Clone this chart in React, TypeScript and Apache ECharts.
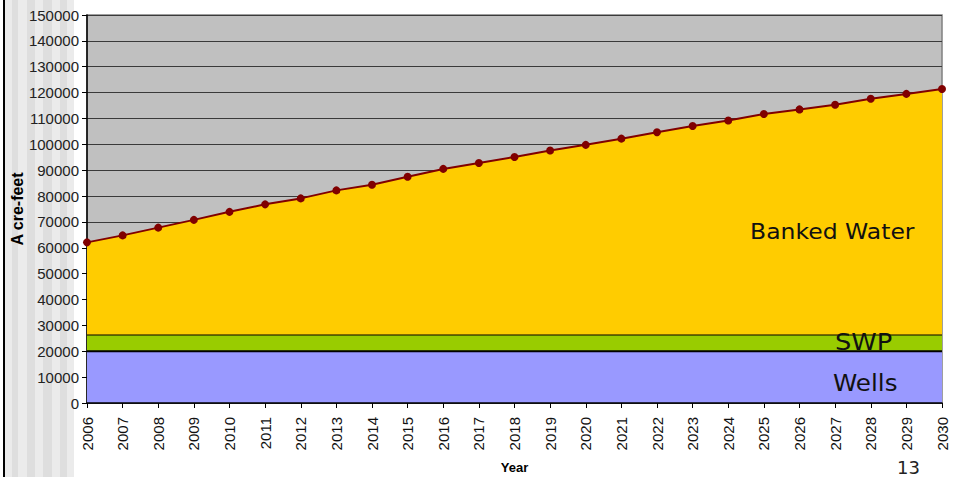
import React, { useEffect, useRef } from "react";
import * as echarts from "echarts";

const years = ["2006","2007","2008","2009","2010","2011","2012","2013","2014","2015","2016","2017","2018","2019","2020","2021","2022","2023","2024","2025","2026","2027","2028","2029","2030"];
const totalAcreFeet = [62100,64800,67800,70800,73900,76800,79100,82200,84400,87500,90500,92800,95100,97600,99800,102200,104700,107100,109200,111700,113500,115300,117600,119500,121400];
const wells = years.map(() => 20000);
const swp = years.map(() => 6500);
const yTicks = { min: 0, max: 150000, interval: 10000 };

export default function App() {
  const ref = useRef<HTMLDivElement>(null);
  useEffect(() => {
    const chart = echarts.init(ref.current!, null, { renderer: "svg" });
    const banked = totalAcreFeet.map((t, i) => t - wells[i] - swp[i]);
    const stripes: any[] = [];
    const stripeEdges = [5, 12, 18, 27, 35, 43, 52, 60, 67, 74];
    for (let i = 0; i < stripeEdges.length - 1; i++) {
      stripes.push({
        type: "rect",
        shape: { x: stripeEdges[i], y: 0, width: stripeEdges[i + 1] - stripeEdges[i], height: 477 },
        style: { fill: i % 2 === 0 ? "#ebebeb" : "#dedede" },
        z: -10,
        silent: true,
      });
    }
    chart.setOption({
      animation: false,
      backgroundColor: "#ffffff",
      graphic: [
        ...stripes,
        { type: "rect", shape: { x: 3, y: 0, width: 2, height: 477 }, style: { fill: "#000" }, z: -5 },
        { type: "text", x: 750, y: 221, scaleX: 1.12, style: { text: "Banked Water", font: '21px "DejaVu Sans"', fill: "#111" }, z: 100 },
        { type: "text", x: 835, y: 330, scaleX: 1.12, style: { text: "SWP", font: '23px "DejaVu Sans"', fill: "#111" }, z: 100 },
        { type: "text", x: 833, y: 372, scaleX: 1.07, style: { text: "Wells", font: '23px "DejaVu Sans"', fill: "#111" }, z: 100 },
        { type: "text", x: 897, y: 458, style: { text: "13", font: '18px "DejaVu Sans"', fill: "#222" }, z: 100 },
      ],
      grid: {
        left: 87, right: 13, top: 15, bottom: 74,
        outerBoundsMode: "none",
        containLabel: false,
        show: true, backgroundColor: "#c0c0c0", borderColor: "#808080", borderWidth: 1.5,
      },
      xAxis: {
        type: "category",
        data: years,
        boundaryGap: false,
        name: "Year",
        nameLocation: "middle",
        nameGap: 58,
        nameMoveOverlap: false,
        nameTextStyle: { fontFamily: "Liberation Sans", fontWeight: "bold", fontSize: 13, color: "#000" },
        axisLine: { lineStyle: { color: "#000", width: 1.5 } },
        axisTick: { show: true, length: 5, alignWithLabel: true, lineStyle: { color: "#000" } },
        axisLabel: { rotate: 90, fontFamily: "Liberation Sans", fontSize: 15, color: "#111", margin: 14, interval: 0 },
        splitLine: { show: false },
        z: 10,
      },
      yAxis: {
        type: "value",
        min: yTicks.min,
        max: yTicks.max,
        interval: yTicks.interval,
        name: "A cre-feet",
        nameLocation: "middle",
        nameGap: 62,
        nameMoveOverlap: false,
        nameTextStyle: { fontFamily: "Liberation Sans", fontWeight: "bold", fontSize: 16, color: "#000" },
        axisLine: { show: true, lineStyle: { color: "#000", width: 1.5 } },
        axisTick: { show: true, length: 5, lineStyle: { color: "#000" } },
        axisLabel: { fontFamily: "Liberation Sans", fontSize: 15, color: "#222", margin: 8, formatter: (v: number) => String(v) },
        splitLine: { show: true, lineStyle: { color: "#3a3a3a", width: 1.2 } },
      },
      series: [
        {
          name: "Wells", type: "line", stack: "total", data: wells,
          symbol: "none", lineStyle: { color: "#000", width: 2 },
          areaStyle: { color: "#9999ff", opacity: 1 }, z: 3,
        },
        {
          name: "SWP", type: "line", stack: "total", data: swp,
          symbol: "none", lineStyle: { color: "#000", width: 2 },
          areaStyle: { color: "#99cc00", opacity: 1 }, z: 3,
        },
        {
          name: "Banked Water", type: "line", stack: "total", data: banked,
          symbol: "circle", symbolSize: 8,
          itemStyle: { color: "#800000" },
          lineStyle: { color: "#800000", width: 2 },
          areaStyle: { color: "#ffcc00", opacity: 1 }, z: 4,
        },
      ],
    });
    return () => chart.dispose();
  }, []);
  return <div ref={ref} style={{ position: "fixed", left: 0, top: 0, width: 955, height: 477 }} />;
}
